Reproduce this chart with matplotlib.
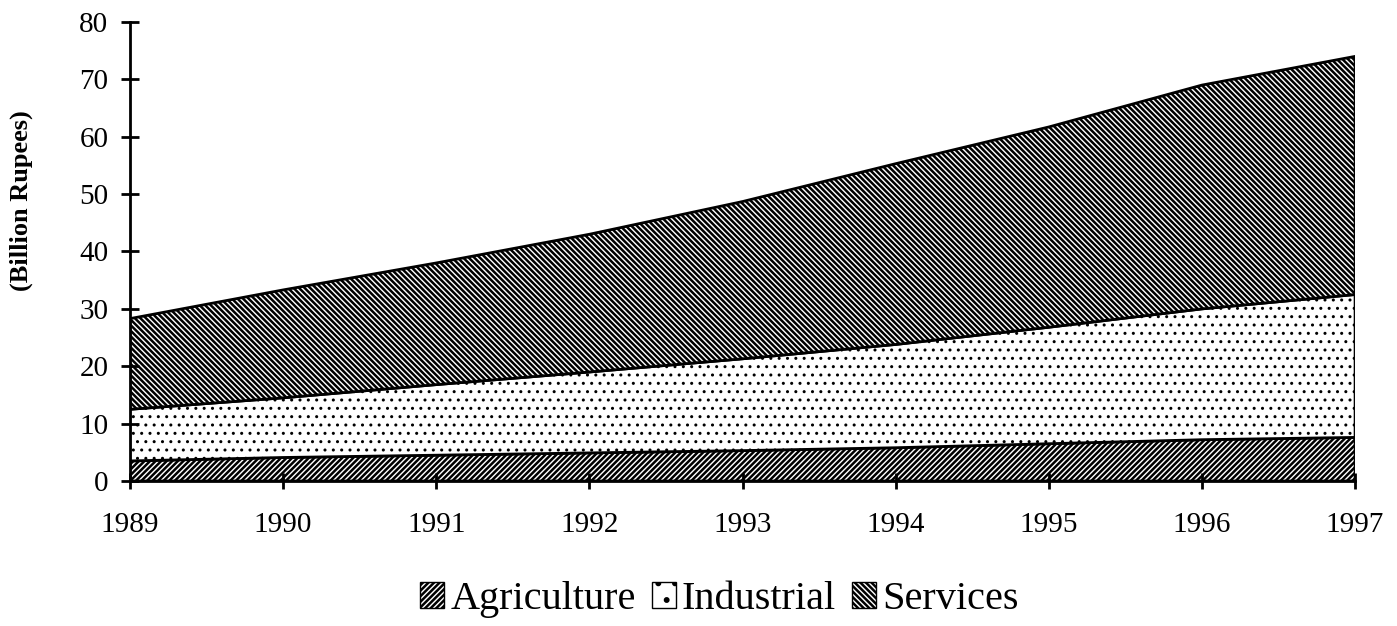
import numpy as np
import matplotlib.pyplot as plt
from matplotlib.patches import Patch

plt.rcParams['font.family'] = ['Liberation Serif', 'DejaVu Serif']
plt.rcParams['hatch.linewidth'] = 1.8

years = [1989, 1990, 1991, 1992, 1993, 1994, 1995, 1996, 1997]
agriculture = [3.5, 4.1, 4.5, 4.9, 5.3, 5.8, 6.5, 7.2, 7.6]
industrial = [9.0, 10.4, 12.3, 14.1, 16.0, 18.0, 20.3, 22.8, 24.9]
services = [15.8, 18.8, 21.2, 24.0, 27.4, 31.5, 34.9, 39.0, 41.5]

agri_top = np.array(agriculture)
ind_top = agri_top + np.array(industrial)
serv_top = ind_top + np.array(services)

fig = plt.figure(figsize=(13.97, 6.26), dpi=100)
ax = fig.add_axes([0.093, 0.2316, 0.877, 0.7333])

ax.fill_between(years, 0, agri_top, facecolor='white', edgecolor='black', hatch='//////', linewidth=2)
with plt.rc_context({'hatch.linewidth': 1.0}):
    ax.fill_between(years, agri_top, ind_top, facecolor='white', edgecolor='black', hatch='..', linewidth=2)
ax.fill_between(years, ind_top, serv_top, facecolor='white', edgecolor='black', hatch='\\\\\\\\\\\\', linewidth=2)

ax.set_xlim(1989, 1997)
ax.set_ylim(0, 80)
ax.set_xticks(years)
ax.set_yticks(range(0, 81, 10))
ax.spines['top'].set_visible(False)
ax.spines['right'].set_visible(False)
ax.spines['left'].set_linewidth(2)
ax.spines['bottom'].set_linewidth(2)
ax.tick_params(axis='y', direction='inout', length=13, width=2, labelsize=21, pad=9)
ax.tick_params(axis='x', direction='inout', length=12, width=2, labelsize=21, pad=16)

ax.set_ylabel('(Billion Rupees)', fontsize=19, fontweight='bold')
ax.yaxis.set_label_coords(-0.079, 0.61)

handles = [Patch(facecolor='white', edgecolor='black', hatch='//////', label='Agriculture'),
           Patch(facecolor='white', edgecolor='black', hatch='.', label='Industrial'),
           Patch(facecolor='white', edgecolor='black', hatch='\\\\\\\\\\\\', label='Services')]
fig.legend(handles=handles, loc='center', bbox_to_anchor=(0.515, 0.042), ncol=3, frameon=False,
           fontsize=29, handlelength=0.6, handleheight=0.6, handletextpad=0.15, columnspacing=0.4)

plt.savefig('out.png', dpi=100)
